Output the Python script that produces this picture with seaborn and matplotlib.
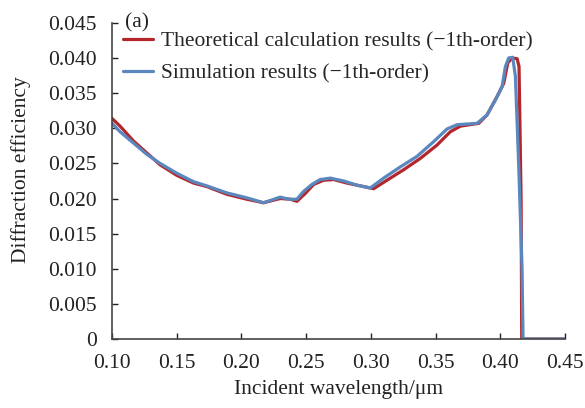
import matplotlib
matplotlib.use("Agg")
import matplotlib.pyplot as plt
import seaborn as sns
import pandas as pd

# -----------------------------
# Data
# -----------------------------
theory_x = [0.1000, 0.1062, 0.1165, 0.1268, 0.1371, 0.1500, 0.1629, 0.1732, 0.1887, 0.2041,
            0.2170, 0.2299, 0.2376, 0.2428, 0.2492, 0.2557, 0.2634, 0.2711, 0.2814, 0.2917,
            0.3021, 0.3124, 0.3253, 0.3381, 0.3510, 0.3613, 0.3691, 0.3833, 0.3897, 0.3974,
            0.4026, 0.4057, 0.4090, 0.4129, 0.4144, 0.4160, 0.4165, 0.4500]
theory_y = [0.0314, 0.0303, 0.0282, 0.0265, 0.0248, 0.0233, 0.0222, 0.0217, 0.0206, 0.0199,
            0.0194, 0.0200, 0.0199, 0.0196, 0.0207, 0.0220, 0.0226, 0.0227, 0.0222, 0.0218,
            0.0214, 0.0226, 0.0241, 0.0257, 0.0276, 0.0295, 0.0303, 0.0307, 0.0319, 0.0345,
            0.0364, 0.0393, 0.0400, 0.0399, 0.0388, 0.0198, 0.0000, 0.0000]

sim_x = [0.1000, 0.1062, 0.1165, 0.1268, 0.1371, 0.1500, 0.1629, 0.1732, 0.1887, 0.2041,
         0.2170, 0.2235, 0.2299, 0.2364, 0.2428, 0.2479, 0.2544, 0.2608, 0.2686, 0.2789,
         0.2892, 0.2995, 0.3098, 0.3227, 0.3356, 0.3485, 0.3588, 0.3665, 0.3820, 0.3897,
         0.3961, 0.4013, 0.4039, 0.4064, 0.4095, 0.4116, 0.4142, 0.4167, 0.4175, 0.4500]
sim_y = [0.0307, 0.0295, 0.0279, 0.0263, 0.0250, 0.0236, 0.0224, 0.0218, 0.0208, 0.0201,
         0.0194, 0.0198, 0.0202, 0.0199, 0.0199, 0.0210, 0.0220, 0.0227, 0.0229, 0.0225,
         0.0219, 0.0215, 0.0229, 0.0245, 0.0260, 0.0281, 0.0299, 0.0305, 0.0307, 0.0319,
         0.0340, 0.0359, 0.0388, 0.0400, 0.0401, 0.0374, 0.0245, 0.0103, 0.0000, 0.0000]

labels = ["Theoretical calculation results (\u22121th-order)",
          "Simulation results (\u22121th-order)"]
x_ticks = [0.10, 0.15, 0.20, 0.25, 0.30, 0.35, 0.40, 0.45]
y_ticks = [0, 0.005, 0.010, 0.015, 0.020, 0.025, 0.030, 0.035, 0.040, 0.045]
y_tick_labels = ["0", "0.005", "0.010", "0.015", "0.020", "0.025",
                 "0.030", "0.035", "0.040", "0.045"]

df = pd.concat([
    pd.DataFrame({"x": theory_x, "y": theory_y, "series": labels[0]}),
    pd.DataFrame({"x": sim_x, "y": sim_y, "series": labels[1]}),
])

# -----------------------------
# Style
# -----------------------------
sns.set_theme(style="ticks")
plt.rcParams["font.family"] = ["Liberation Serif", "DejaVu Serif"]

fs = 15.5
fig = plt.figure(figsize=(5.85, 4.08), dpi=100)
ax = fig.add_axes([0.1915, 0.169, 0.7745, 0.775])

sns.lineplot(data=df, x="x", y="y", hue="series", sort=False,
             palette=["#b3262c", "#5b87bf"], linewidth=2.3, ax=ax)

ax.set_xlim(0.10, 0.45)
ax.set_ylim(0, 0.045)
ax.set_xticks(x_ticks)
ax.set_xticklabels([f"{t:.2f}" for t in x_ticks])
ax.set_yticks(y_ticks)
ax.set_yticklabels(y_tick_labels)
ax.tick_params(direction="in", length=4.5, width=1, labelsize=fs, colors="#222222",
               pad=11)

for s in ["top", "right"]:
    ax.spines[s].set_visible(False)
for s in ["left", "bottom"]:
    ax.spines[s].set_color("#444444")
    ax.spines[s].set_linewidth(1.2)

ax.set_xlabel("Incident wavelength/\u03bcm", fontsize=fs, labelpad=5, color="#222222")
ax.set_ylabel("Diffraction efficiency", fontsize=fs, labelpad=12.5, color="#222222")
ax.yaxis.label.set_y(0.535)

ax.legend(loc="upper left", bbox_to_anchor=(0.024, 0.9715), frameon=False,
          fontsize=fs, handlelength=1.4, labelspacing=0.55, handletextpad=0.35,
          borderaxespad=0, borderpad=0)
ax.text(0.029, 1.0, "(a)", transform=ax.transAxes, fontsize=fs, va="center",
        color="#222222")

fig.savefig("out.png", dpi=100)
